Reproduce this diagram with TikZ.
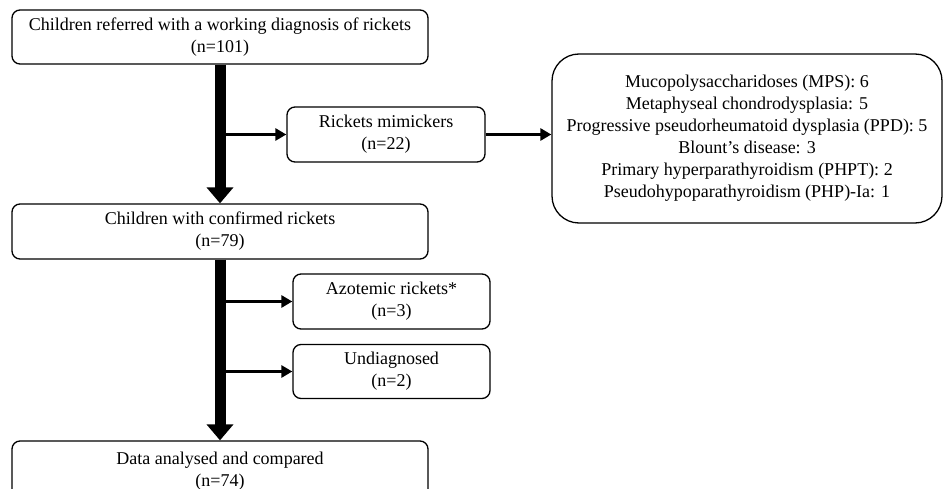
\documentclass[tikz,border=0pt]{standalone}
\usepackage{fontspec}
\setmainfont{Liberation Serif}
\usetikzlibrary{arrows.meta}
\tikzset{
  box/.style={draw=black, line width=1.3pt, rounded corners=8pt, fill=white, align=center,
    inner sep=0pt, font=\fontsize{18}{22}\selectfont},
  trunk/.style={line width=11pt, -{Triangle[width=26pt,length=16pt]}},
  branch/.style={line width=3pt, -{Triangle[width=12pt,length=11pt]}}
}
\begin{document}
\begin{tikzpicture}[x=1pt,y=-1pt]
\useasboundingbox (0,0) rectangle (943,489);
\clip (0,0) rectangle (943,489);
\node[box, minimum width=416pt, minimum height=54pt] (top) at (220,37)
  {Children referred with a working diagnosis of rickets\\(n=101)};
\node[box, minimum width=416pt, minimum height=55pt] (conf) at (220,231.5)
  {Children with confirmed rickets\\(n=79)};
\node[box, minimum width=198pt, minimum height=55pt] (mim) at (386,134.5)
  {Rickets mimickers\\(n=22)};
\node[box, rounded corners=27pt, minimum width=390pt, minimum height=169pt] (big) at (747,138.5)
  {Mucopolysaccharidoses (MPS): 6\\Metaphyseal chondrodysplasia: 5\\Progressive pseudorheumatoid dysplasia (PPD): 5\\Blount’s disease: 3\\Primary hyperparathyroidism (PHPT): 2\\Pseudohypoparathyroidism (PHP)-Ia: 1};
\node[box, minimum width=197pt, minimum height=55pt] (azo) at (391.5,301.5)
  {Azotemic rickets*\\(n=3)};
\node[box, minimum width=197pt, minimum height=54pt] (und) at (391.5,371.5)
  {Undiagnosed\\(n=2)};
\node[box, minimum width=416pt, minimum height=60pt] (data) at (220,471)
  {Data analysed and compared\\(n=74)};
\draw[trunk] (top.south) -- (conf.north);
\draw[trunk] (conf.south) -- (data.north);
\coordinate (j1) at (top.south |- mim.west);
\coordinate (j2) at (conf.south |- azo.west);
\coordinate (j3) at (conf.south |- und.west);
\draw[branch] (j1) -- (mim.west);
\draw[branch] (mim.east) -- (mim.east -| big.west);
\draw[branch] (j2) -- (azo.west);
\draw[branch] (j3) -- (und.west);
\end{tikzpicture}
\end{document}
